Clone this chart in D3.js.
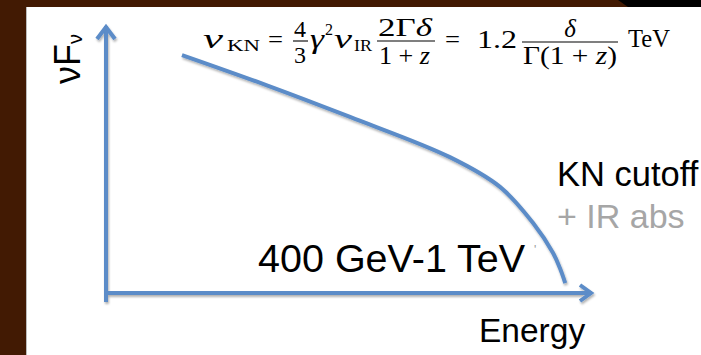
<!DOCTYPE html>
<html>
<head>
<meta charset="utf-8">
<script src="https://cdn.jsdelivr.net/npm/d3@7"></script>
<style>
  html, body { margin: 0; padding: 0; background: #421a03; }
  svg { display: block; }
</style>
</head>
<body>
<div id="chart"></div>
<script>
// 曲线数据 (能量, νFν), 任意单位, 读自原图
const energy = [1.56, 3.29, 5.01, 7.06, 8.09, 8.77, 9.18, 9.32, 9.43];
const flux   = [8.88, 7.76, 6.57, 5.07, 3.96, 2.61, 1.49, 0.93, 0.37];
const energyDomain = [0, 10];
const fluxDomain = [0, 10];

const W = 701, H = 355;
const blue = '#5b8cc8';

const svg = d3.select('#chart').append('svg')
  .attr('width', W).attr('height', H);

// 背景: 棕色 + 右上角黑色 + 白色面板
svg.append('rect').attr('width', W).attr('height', H).attr('fill', '#421a03');
svg.append('path').attr('d', 'M618,0L701,0L701,7L628,7Z').attr('fill', '#000');
svg.append('rect').attr('x', 26).attr('y', 7).attr('width', W - 26).attr('height', H - 7)
  .attr('fill', '#fff');
svg.append('line').attr('x1', 26.5).attr('x2', 26.5).attr('y1', 7).attr('y2', H)
  .attr('stroke', '#bbb').attr('stroke-width', 1);

const defs = svg.append('defs');
const shadow = defs.append('filter').attr('id', 'shadow')
  .attr('x', '-10%').attr('y', '-10%').attr('width', '130%').attr('height', '130%');
shadow.append('feDropShadow').attr('dx', 1).attr('dy', 2)
  .attr('stdDeviation', 1.2).attr('flood-color', '#000').attr('flood-opacity', 0.3);

const x = d3.scaleLinear().domain(energyDomain).range([106, 593]);
const y = d3.scaleLinear().domain(fluxDomain).range([293, 25]);

const g = svg.append('g').attr('filter', 'url(#shadow)')
  .attr('stroke', blue).attr('fill', 'none')
  .attr('stroke-width', 4).attr('stroke-linecap', 'butt');

// 纵轴
const yTop = y(fluxDomain[1]);
g.append('line')
  .attr('x1', x(0)).attr('x2', x(0))
  .attr('y1', y(0) + 9).attr('y2', yTop + 1);
g.append('path')
  .attr('stroke-linejoin', 'miter')
  .attr('d', `M${x(0) - 9},${yTop + 14}L${x(0)},${yTop + 2}L${x(0) + 9},${yTop + 14}`);

// 横轴
const xEnd = x(energyDomain[1]);
g.append('line')
  .attr('x1', x(0) - 1).attr('x2', xEnd - 1)
  .attr('y1', y(0)).attr('y2', y(0));
g.append('path')
  .attr('stroke-linejoin', 'miter')
  .attr('d', `M${xEnd - 13},${y(0) - 8}L${xEnd - 2},${y(0)}L${xEnd - 13},${y(0) + 8}`);

// 谱线
const line = d3.line()
  .x((d, i) => x(energy[i]))
  .y((d, i) => y(flux[i]))
  .curve(d3.curveCatmullRom.alpha(0.5));
g.append('path').datum(energy).attr('d', line);

// 文字
const sans = 'Liberation Sans, Arial, sans-serif';
const serif = 'Liberation Serif, Times New Roman, serif';

svg.append('text')
  .attr('transform', 'translate(80,84) rotate(-90)')
  .attr('font-family', sans).attr('font-size', 36).attr('fill', '#000')
  .text('νF')
  .append('tspan').attr('font-size', 20).attr('dy', 2).text('ν');

svg.append('text').attr('x', 258).attr('y', 272)
  .attr('font-family', sans).attr('font-size', 39.5).attr('fill', '#000')
  .text('400 GeV-1 TeV');
svg.append('text').attr('x', 534).attr('y', 254)
  .attr('font-family', sans).attr('font-size', 12).attr('fill', '#999')
  .text('\'');

svg.append('text').attr('x', 557).attr('y', 186)
  .attr('font-family', sans).attr('font-size', 34.5).attr('fill', '#000')
  .text('KN cutoff');
svg.append('text').attr('x', 557).attr('y', 228)
  .attr('font-family', sans).attr('font-size', 34).attr('fill', '#a6a6a6')
  .text('+ IR abs');
svg.append('text').attr('x', 479).attr('y', 342)
  .attr('font-family', sans).attr('font-size', 33.5).attr('fill', '#000')
  .text('Energy');

// 公式
const eq = svg.append('g').attr('font-family', serif).attr('fill', '#000');
function t(xp, yp, s, opts = {}) {
  const el = eq.append('text').attr('x', xp).attr('y', yp)
    .attr('font-size', opts.size || 24)
    .attr('font-style', opts.italic ? 'italic' : 'normal')
    .attr('text-anchor', opts.anchor || 'start');
  if (opts.len) el.attr('textLength', opts.len).attr('lengthAdjust', 'spacingAndGlyphs');
  if (Array.isArray(s)) {
    s.forEach(([str, it]) => el.append('tspan').attr('font-style', it ? 'italic' : 'normal').text(str));
  } else {
    el.text(s);
  }
  return el;
}
function bar(x1, x2, yp) {
  eq.append('line').attr('x1', x1).attr('x2', x2).attr('y1', yp).attr('y2', yp)
    .attr('stroke', '#000').attr('stroke-width', 1.1);
}
const base = 48;
t(203, base, 'ν', { italic: true, size: 28, len: 20 });
t(227, base + 3, 'KN', { size: 16, len: 33 });
t(268, base, '=', { size: 25, len: 15 });
t(300, 37, '4', { anchor: 'middle', size: 24 });
bar(293, 308, 41);
t(300, 63, '3', { anchor: 'middle', size: 24 });
t(310, base, 'γ', { italic: true, size: 27, len: 14 });
t(325, 35, '2', { size: 16 });
t(334, base, 'ν', { italic: true, size: 28, len: 18 });
t(354, base + 3, 'IR', { size: 16, len: 18 });
t(378, 36, [['2Γ', false], ['δ', true]], { size: 25, len: 54 });
bar(377, 435, 41);
t(379, 64, [['1 + ', false], ['z', true]], { size: 25, len: 51 });
t(445, base, '=', { size: 25, len: 15 });
t(477, base, '1.2', { size: 26, len: 40 });
t(570, 37, 'δ', { italic: true, anchor: 'middle', size: 25 });
bar(522, 618, 42);
t(523, 64, [['Γ(1 + ', false], ['z', true], [')', false]], { size: 25, len: 94 });
t(628, base - 1, 'TeV', { size: 25, len: 42 });
</script>
</body>
</html>
